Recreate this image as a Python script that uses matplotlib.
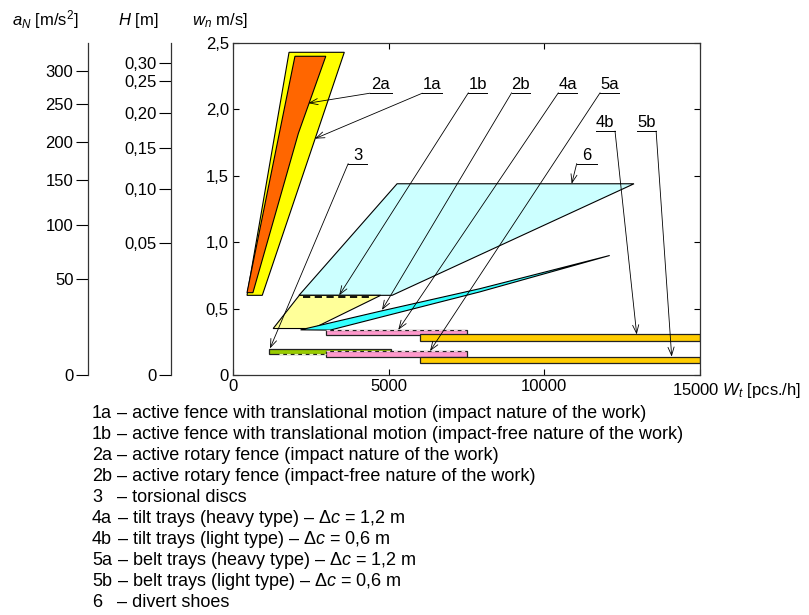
import matplotlib
matplotlib.use("Agg")
import matplotlib.pyplot as plt
from matplotlib.patches import Polygon, Rectangle

plt.rcParams['font.family'] = ['Liberation Sans', 'DejaVu Sans']
plt.rcParams['mathtext.fontset'] = 'custom'
plt.rcParams['mathtext.rm'] = 'Liberation Sans'
plt.rcParams['mathtext.it'] = 'Liberation Sans:italic'
plt.rcParams['mathtext.bf'] = 'Liberation Sans:bold'

# areas: throughput W_t [pcs./h] vs. speed w_n [m/s]
fence_1a_W = [450, 1800, 3575, 940]
fence_1a_w = [0.60, 2.43, 2.43, 0.60]
fence_2a_W = [450, 1990, 2980, 2100, 640]
fence_2a_w = [0.62, 2.40, 2.40, 1.82, 0.62]
shoes_6_W = [2120, 5270, 12880, 5110]
shoes_6_w = [0.60, 1.44, 1.44, 0.60]
fence_1b_W = [1290, 2130, 4745, 2570]
fence_1b_w = [0.35, 0.60, 0.60, 0.35]
fence_2b_W = [2170, 4720, 7930, 12100, 7930, 4720, 3120]
fence_2b_w = [0.34, 0.48, 0.65, 0.90, 0.626, 0.434, 0.338]

# bars: discs and trays
bar_names = ['3', '5a', '4a', '4b', '5b']
bar_W_start = [1170, 3000, 3000, 6000, 6000]
bar_W_end = [5075, 7500, 7500, 15000, 15000]
bar_w_low = [0.158, 0.135, 0.30, 0.255, 0.092]
bar_w_high = [0.195, 0.180, 0.338, 0.305, 0.138]
bar_colors = ['#99CC00', '#FF99CC', '#FF99CC', '#FFCC00', '#FFCC00']

# side scales (value, position on the w_n scale)
aN_ticks = [0, 50, 100, 150, 200, 250, 300]
aN_pos = [0, 0.72, 1.128, 1.466, 1.757, 2.038, 2.288]
H_ticks = ['0', '0,05', '0,10', '0,15', '0,20', '0,25', '0,30']
H_pos = [0, 0.994, 1.398, 1.709, 1.975, 2.213, 2.351]

legend_codes = ['1a', '1b', '2a', '2b', '3', '4a', '4b', '5a', '5b', '6']
legend_texts = [
    'active fence with translational motion (impact nature of the work)',
    'active fence with translational motion (impact-free nature of the work)',
    'active rotary fence (impact nature of the work)',
    'active rotary fence (impact-free nature of the work)',
    'torsional discs',
    r'tilt trays (heavy type) – $\mathit{Δc}$ = 1,2 m',
    r'tilt trays (light type) – $\mathit{Δc}$ = 0,6 m',
    r'belt trays (heavy type) – $\mathit{Δc}$ = 1,2 m',
    r'belt trays (light type) – $\mathit{Δc}$ = 0,6 m',
    'divert shoes',
]

W, Hpx = 809, 615
fig = plt.figure(figsize=(W / 100, Hpx / 100), dpi=100)

def fx(px):
    return px / W

def fy(py):
    return 1 - py / Hpx

FS = 12

bottom = fy(375)
height = 332 / Hpx
ax = fig.add_axes([fx(233), bottom, 467 / W, height])
ax.set_xlim(0, 15000)
ax.set_ylim(0, 2.5)

edge = dict(edgecolor='black', linewidth=0.8)
ax.add_patch(Polygon(list(zip(fence_1a_W, fence_1a_w)), facecolor='#FFFF00', **edge))
ax.add_patch(Polygon(list(zip(fence_2a_W, fence_2a_w)), facecolor='#FF6600', **edge))
ax.add_patch(Polygon(list(zip(shoes_6_W, shoes_6_w)), facecolor='#CCFFFF', **edge))
ax.add_patch(Polygon(list(zip(fence_1b_W, fence_1b_w)), facecolor='#FFFF99', **edge))
ax.add_patch(Polygon(list(zip(fence_2b_W, fence_2b_w)), facecolor='#33FFFF', **edge))
ax.plot([2250, 4450], [0.585, 0.585], color='black', lw=1.3, ls=(0, (4, 2.5)))

for x0, x1, lo, hi, c in zip(bar_W_start, bar_W_end, bar_w_low, bar_w_high, bar_colors):
    ax.add_patch(Rectangle((x0, lo), x1 - x0, hi - lo, facecolor=c,
                           edgecolor='#222222', linewidth=0.9))
# dashed light edges seen on the original
for i in (1, 2):
    ax.plot([bar_W_start[i], bar_W_end[i]], [bar_w_high[i]] * 2, color='#f4d0e0',
            lw=0.9, ls=(0, (3, 3)))
ax.plot([bar_W_start[0] + 300, bar_W_start[1]], [bar_w_low[0]] * 2, color='#e8f4c0',
        lw=0.9, ls=(0, (3, 3)))

# callouts: label, underline x0, x1, height, leader start, leader end
callouts = [
    ('2a', 4400, 5100, 2.122, 4400, (2419, 2.047)),
    ('1a', 6080, 6700, 2.122, 6080, (2634, 1.78)),
    ('3', 3700, 4315, 1.592, 3700, (1188, 0.20)),
    ('1b', 7560, 8160, 2.125, 7560, (3410, 0.60)),
    ('2b', 8950, 9540, 2.125, 8950, (4786, 0.49)),
    ('4a', 10450, 11040, 2.125, 10450, (5309, 0.34)),
    ('5a', 11790, 12400, 2.125, 11790, (6328, 0.18)),
    ('4b', 11650, 12270, 1.837, 12270, (12967, 0.305)),
    ('5b', 12970, 13590, 1.837, 13590, (14091, 0.138)),
    ('6', 11040, 11680, 1.592, 11040, (10879, 1.44)),
]
for lab, x0, x1, h, xs, end in callouts:
    ax.plot([x0, x1], [h, h], color='black', lw=0.7)
    ax.text((x0 + x1) / 2, h + 0.008, lab, ha='center', va='bottom', fontsize=FS)
    ax.annotate('', xy=end, xytext=(xs, h),
                arrowprops=dict(arrowstyle='->,head_length=0.6,head_width=0.22',
                                lw=0.6, color='black', shrinkA=0, shrinkB=0))

ax.set_xticks([0, 5000, 10000, 15000])
ax.set_xticklabels(['0', '5000', '10000', ''])
ax.set_yticks([0, 0.5, 1.0, 1.5, 2.0, 2.5])
ax.set_yticklabels(['0', '0,5', '1,0', '1,5', '2,0', '2,5'])
ax.tick_params(direction='in', top=True, right=True, length=4, width=0.8,
               labelsize=FS, pad=3)
for s in ax.spines.values():
    s.set_linewidth(0.9)
    s.set_color('#333333')

# side scales
for xp, ticks, pos in ((88, aN_ticks, aN_pos), (171, H_ticks, H_pos)):
    sa = fig.add_axes([fx(xp), bottom, 0.0001, height])
    sa.set_ylim(0, 2.5)
    sa.set_xticks([])
    sa.set_yticks(pos)
    sa.set_yticklabels([str(t) for t in ticks])
    for k in ('right', 'top', 'bottom'):
        sa.spines[k].set_visible(False)
    sa.spines['left'].set_linewidth(0.9)
    sa.spines['left'].set_color('#333333')
    sa.tick_params(direction='out', length=9, width=0.8, labelsize=FS, pad=1.5)
    sa.patch.set_visible(False)

fig.text(fx(12), fy(20), r'$a_N$ [m/s$^2$]', fontsize=FS, va='center')
fig.text(fx(118), fy(20), r'$H$ [m]', fontsize=FS, va='center')
fig.text(fx(192), fy(20), r'$w_n$ m/s]', fontsize=FS, va='center')
fig.text(fx(672), fy(391), r'15000 $W_t$ [pcs./h]', fontsize=FS, va='center')

for i, (code, txt) in enumerate(zip(legend_codes, legend_texts)):
    y = fy(414 + i * 20.9)
    fig.text(fx(92), y, code, fontsize=13, va='center')
    fig.text(fx(117), y, '– ' + txt, fontsize=13, va='center')

fig.savefig('out.png', dpi=100)
